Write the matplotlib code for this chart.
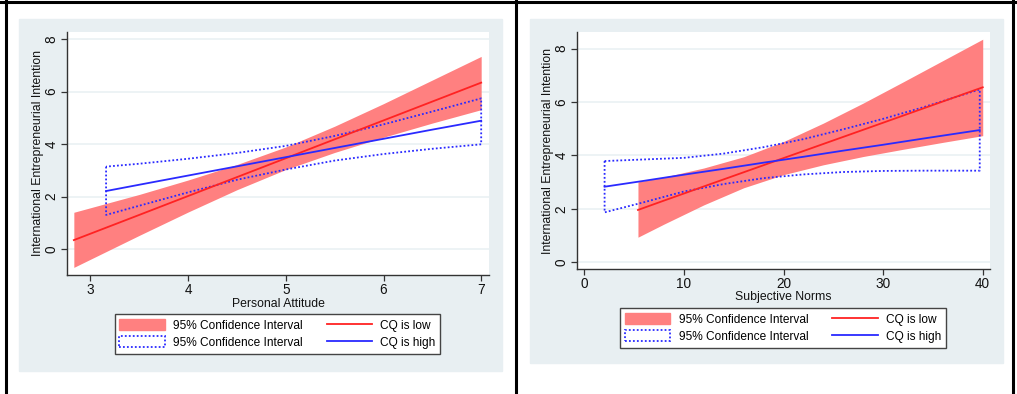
"""Two Stata-style margin plots (CQ low vs high) side by side, inside a bordered table cell layout."""
import numpy as np
import matplotlib; matplotlib.use("Agg")
import matplotlib.pyplot as plt
from matplotlib.patches import Rectangle, Patch
from matplotlib.lines import Line2D

plt.rcParams["font.family"] = ["Liberation Sans", "DejaVu Sans"]

# ---- left panel: Personal Attitude ----
pa_x_low = [2.83, 3.5, 4.0, 4.5, 5.0, 5.5, 6.0, 6.5, 7.0]
pa_fit_low = [0.34, 1.30, 2.02, 2.74, 3.46, 4.18, 4.90, 5.62, 6.34]
pa_hi_low = [1.40, 2.08, 2.63, 3.22, 3.89, 4.68, 5.54, 6.44, 7.34]
pa_lo_low = [-0.70, 0.52, 1.41, 2.26, 3.03, 3.68, 4.26, 4.80, 5.31]

pa_x_high = [3.16, 3.5, 4.0, 4.5, 5.0, 5.5, 6.0, 6.5, 7.0]
pa_fit_high = [2.21, 2.45, 2.80, 3.15, 3.50, 3.85, 4.20, 4.55, 4.89]
pa_hi_high = [3.14, 3.25, 3.44, 3.66, 3.93, 4.31, 4.75, 5.24, 5.74]
pa_lo_high = [1.30, 1.65, 2.16, 2.64, 3.03, 3.37, 3.62, 3.82, 3.99]

# ---- right panel: Subjective Norms ----
sn_x_low = [5.39, 8, 12, 16, 20, 24, 28, 32, 36, 40]
sn_fit_low = [1.96, 2.31, 2.84, 3.37, 3.90, 4.43, 4.96, 5.49, 6.02, 6.55]
sn_hi_low = [3.01, 3.19, 3.53, 3.95, 4.52, 5.21, 5.96, 6.75, 7.55, 8.35]
sn_lo_low = [0.94, 1.43, 2.15, 2.79, 3.28, 3.65, 3.96, 4.23, 4.49, 4.74]

sn_x_high = [2.04, 6, 10, 14, 18, 22, 26, 30, 34, 39.7]
sn_fit_high = [2.83, 3.05, 3.28, 3.50, 3.73, 3.95, 4.18, 4.40, 4.63, 4.95]
sn_hi_high = [3.79, 3.85, 3.91, 4.07, 4.31, 4.61, 4.98, 5.37, 5.80, 6.47]
sn_lo_high = [1.87, 2.25, 2.65, 2.93, 3.15, 3.29, 3.38, 3.42, 3.43, 3.43]

ylabel = "International Entrepreneurial Intention"
legend_labels = ["95% Confidence Interval", "95% Confidence Interval", "CQ is low", "CQ is high"]

BG = "#e8eff2"; GRID = "#eaf1f3"; BAND = "#ff8080"; RED = "#ff2222"; BLUE = "#2a2aff"; AX = "#333333"
W, H = 1017, 394
DOT = (0, (1, 1.2))

fig = plt.figure(figsize=(W / 100, H / 100), dpi=100)
fig.patch.set_facecolor("white")

def px(x0, y0, x1, y1):
    # pixel box (top-left origin) -> figure fraction [l, b, w, h]
    return [x0 / W, 1 - y1 / H, (x1 - x0) / W, (y1 - y0) / H]

# grey graph regions behind each plot (zorder below the axes)
for box in [(19, 19, 502, 371), (530, 19, 1003, 363)]:
    l, b, w, h = px(*box)
    fig.patches.append(Rectangle((l, b), w, h, transform=fig.transFigure, color=BG, zorder=-5))

# table borders
for xs, ys in [([0, 1], [1 - 2 / H] * 2), ([5.5 / W] * 2, [0, 1]), ([515.5 / W] * 2, [0, 1]),
               ([1013 / W] * 2, [0, 1])]:
    fig.add_artist(Line2D(xs, ys, transform=fig.transFigure, color="black", lw=2.2, zorder=5))


def panel(rect, xl, yl, xticks, yticks, xlabel, low, high, leg_xy):
    ax = fig.add_axes(px(*rect))
    ax.set_facecolor("white")
    x, fit, hi, lo = low
    ax.fill_between(x, lo, hi, color=BAND, lw=0, zorder=2)
    ax.plot(x, fit, color=RED, lw=1.3, zorder=4)
    x2, fit2, hi2, lo2 = high
    ax.fill_between(x2, lo2, hi2, facecolor="none", edgecolor=BLUE, linestyle=DOT, lw=1.3, zorder=3)
    ax.plot(x2, fit2, color=BLUE, lw=1.3, zorder=4)
    for y in yticks:
        ax.axhline(y, color=GRID, lw=1.2, zorder=1)
    ax.set_xlim(*xl); ax.set_ylim(*yl)
    ax.set_xticks(xticks); ax.set_yticks(yticks)
    for s in ["top", "right"]:
        ax.spines[s].set_visible(False)
    for s in ["left", "bottom"]:
        ax.spines[s].set_color(AX); ax.spines[s].set_linewidth(1.0)
    ax.tick_params(length=4, width=0.9, color=AX, labelsize=9.8, pad=2, labelcolor="#111111")
    plt.setp(ax.get_yticklabels(), rotation=90, va="center")
    ax.set_xlabel(xlabel, fontsize=8.8, color="#111111")
    ax.set_ylabel(ylabel, fontsize=8.8, color="#111111")
    ax.xaxis.set_label_coords(0.5, -0.093)
    ax.yaxis.set_label_coords(-0.055, 0.5)

    handles = [Patch(facecolor=BAND, edgecolor=BAND),
               Patch(facecolor="white", edgecolor=BLUE, linestyle=DOT, lw=1.3),
               Line2D([], [], color=RED, lw=1.3), Line2D([], [], color=BLUE, lw=1.3)]
    leg = fig.legend(handles, legend_labels, ncol=2, loc="center", bbox_to_anchor=leg_xy,
                     fontsize=8.6, frameon=True, fancybox=False, edgecolor="#444444", framealpha=1,
                     handlelength=3.8, handleheight=1.0, handletextpad=0.7, columnspacing=2.0,
                     labelspacing=0.4, borderpad=0.4)
    leg.get_frame().set_linewidth(1.0)
    return ax


panel((67, 32, 489, 275), (2.76, 7.08), (-0.99, 8.27), [3, 4, 5, 6, 7], [0, 2, 4, 6, 8],
      "Personal Attitude", (pa_x_low, pa_fit_low, pa_hi_low, pa_lo_low),
      (pa_x_high, pa_fit_high, pa_hi_high, pa_lo_high), (277.5 / W, 1 - 334 / H))
panel((577, 32, 990, 269), (-0.73, 40.73), (-0.25, 8.62), [0, 10, 20, 30, 40], [0, 2, 4, 6, 8],
      "Subjective Norms", (sn_x_low, sn_fit_low, sn_hi_low, sn_lo_low),
      (sn_x_high, sn_fit_high, sn_hi_high, sn_lo_high), (783 / W, 1 - 328 / H))

fig.savefig("out.png", dpi=100)
